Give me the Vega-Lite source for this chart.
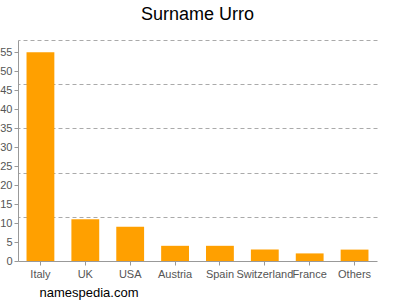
{
  "$schema": "https://vega.github.io/schema/vega-lite/v6.json",
  "width": 359,
  "height": 221,
  "autosize": {"type": "none"},
  "padding": {"left": 18, "top": 40, "right": 23, "bottom": 39},
  "background": "white",
  "title": {
    "text": "Surname Urro",
    "font": "Liberation Sans",
    "fontSize": 18,
    "fontWeight": "normal",
    "color": "#000000",
    "anchor": "middle",
    "offset": 16
  },
  "config": {
    "view": {"stroke": null},
    "axis": {"labelFont": "Liberation Sans", "titleFont": "Liberation Sans"}
  },
  "data": {
    "values": [
      {"country": "Italy", "count": 55},
      {"country": "UK", "count": 11},
      {"country": "USA", "count": 9},
      {"country": "Austria", "count": 4},
      {"country": "Spain", "count": 4},
      {"country": "Switzerland", "count": 3},
      {"country": "France", "count": 2},
      {"country": "Others", "count": 3}
    ]
  },
  "layer": [
    {
      "mark": {"type": "bar", "color": "#FFA000"},
      "encoding": {
        "x": {
          "field": "country",
          "type": "nominal",
          "sort": null,
          "scale": {"paddingInner": 0.38, "paddingOuter": 0.19},
          "axis": {
            "title": "namespedia.com",
            "titleColor": "#000000",
            "titleFontSize": 13,
            "titleFontWeight": "normal",
            "titleAnchor": "start",
            "titleAlign": "left",
            "titleBaseline": "alphabetic",
            "titleX": 21,
            "titleY": 35,
            "labelAngle": 0,
            "labelFontSize": 11,
            "labelColor": "#555555",
            "labelPadding": 3,
            "tickSize": 4,
            "tickColor": "#999999",
            "domainColor": "#999999",
            "grid": false
          }
        },
        "y": {
          "field": "count",
          "type": "quantitative",
          "scale": {"domain": [0, 58.2], "nice": false, "zero": true},
          "axis": {
            "title": null,
            "values": [0, 5, 10, 15, 20, 25, 30, 35, 40, 45, 50, 55],
            "grid": false,
            "labelFontSize": 11,
            "labelColor": "#555555",
            "labelPadding": 2,
            "tickSize": 4,
            "tickColor": "#999999",
            "domainColor": "#999999"
          }
        }
      }
    },
    {
      "mark": {"type": "bar", "opacity": 0},
      "encoding": {
        "x": {"field": "country", "type": "nominal", "sort": null},
        "y": {
          "field": "count",
          "type": "quantitative",
          "axis": {
            "orient": "right",
            "title": null,
            "values": [11.64, 23.28, 34.92, 46.56, 58.2],
            "grid": true,
            "gridDash": [4, 3],
            "gridColor": "#AAAAAA",
            "gridWidth": 1,
            "labels": false,
            "ticks": false,
            "domain": false
          }
        }
      }
    }
  ],
  "resolve": {"axis": {"y": "independent"}}
}
